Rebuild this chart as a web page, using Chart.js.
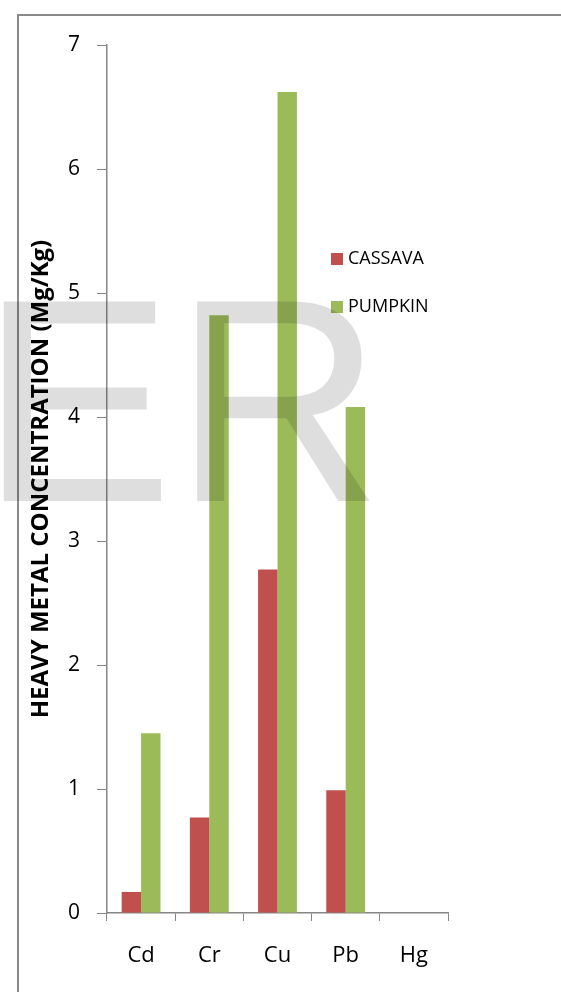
<!DOCTYPE html>
<html>
<head>
<meta charset="utf-8">
<script src="https://cdn.jsdelivr.net/npm/chart.js@4"></script>
<style>
  body { margin: 0; background: #fff; overflow: hidden; }
  #wrap { position: relative; width: 561px; height: 992px; }
  #frame { position: absolute; left: 17px; top: 14px; width: 600px; height: 1000px;
           border-left: 2px solid #8a8a8a; border-top: 2px solid #8a8a8a; }
  canvas { position: absolute; left: 0; top: 0; }
</style>
</head>
<body>
<div id="wrap">
  <div id="frame"></div>
  <canvas id="chart" width="561" height="992"></canvas>
</div>
<script>
var metals = ['Cd', 'Cr', 'Cu', 'Pb', 'Hg'];
var cassava = [0.17, 0.77, 2.77, 0.99, 0];
var pumpkin = [1.45, 4.82, 6.62, 4.08, 0];
var yTicks = [0, 1, 2, 3, 4, 5, 6, 7];

// legend + watermark, drawn by hand
var extras = {
    id: 'extras',
    afterDraw: function (chart) {
        var ctx = chart.ctx;
        ctx.save();
        ctx.font = '18px "Open Sans"';
        ctx.textBaseline = 'middle';
        var ys = [259, 307];
        chart.data.datasets.forEach(function (ds, i) {
            ctx.fillStyle = ds.backgroundColor;
            ctx.fillRect(331, ys[i] - 6, 12, 12);
            ctx.fillStyle = '#000';
            ctx.fillText(ds.label, 348, ys[i]);
        });
        ctx.fillStyle = 'rgba(0,0,0,0.13)';
        ctx.font = '290px "Liberation Sans"';
        ctx.textBaseline = 'alphabetic';
        ctx.fillText('ER', -20, 501);
        ctx.restore();
    }
};

var chart = new Chart(document.getElementById('chart').getContext('2d'), {
    type: 'bar',
    data: {
        labels: metals,
        datasets: [{
                label: 'CASSAVA',
                data: cassava,
                backgroundColor: '#C0504D'
            },
            {
                label: 'PUMPKIN',
                data: pumpkin,
                backgroundColor: '#9BBB59'
            }]
    },
    options: {
        responsive: false,
        animation: false,
        events: [],
        layout: { padding: { top: 45, right: 113, bottom: 0, left: 27 } },
        datasets: { bar: { categoryPercentage: 0.57, barPercentage: 1 } },
        plugins: { legend: { display: false }, tooltip: { enabled: false } },
        scales: {
            x: {
                grid: { offset: true, drawOnChartArea: false, tickLength: 8, color: '#868686' },
                border: { color: '#868686', width: 1.5 },
                ticks: { color: '#000', padding: 22, font: { family: 'Open Sans', size: 22 } },
                afterFit: function (s) { s.height = 79; }
            },
            y: {
                min: 0, max: 7,
                afterBuildTicks: function (s) { s.ticks = yTicks.map(function (v) { return { value: v }; }); },
                grid: { drawOnChartArea: false, tickLength: 10, color: '#868686' },
                border: { color: '#868686', width: 1.5 },
                ticks: { color: '#000', padding: 17, font: { family: 'Open Sans', size: 21 } },
                title: {
                    display: true,
                    text: 'HEAVY METAL CONCENTRATION (Mg/Kg)',
                    color: '#000',
                    font: { family: 'Open Sans', size: 24, weight: 'bold' },
                    padding: { top: 0, bottom: 12 }
                },
                afterFit: function (s) { s.width = 80; }
            }
        }
    },
    plugins: [extras]
});
</script>
</body>
</html>
